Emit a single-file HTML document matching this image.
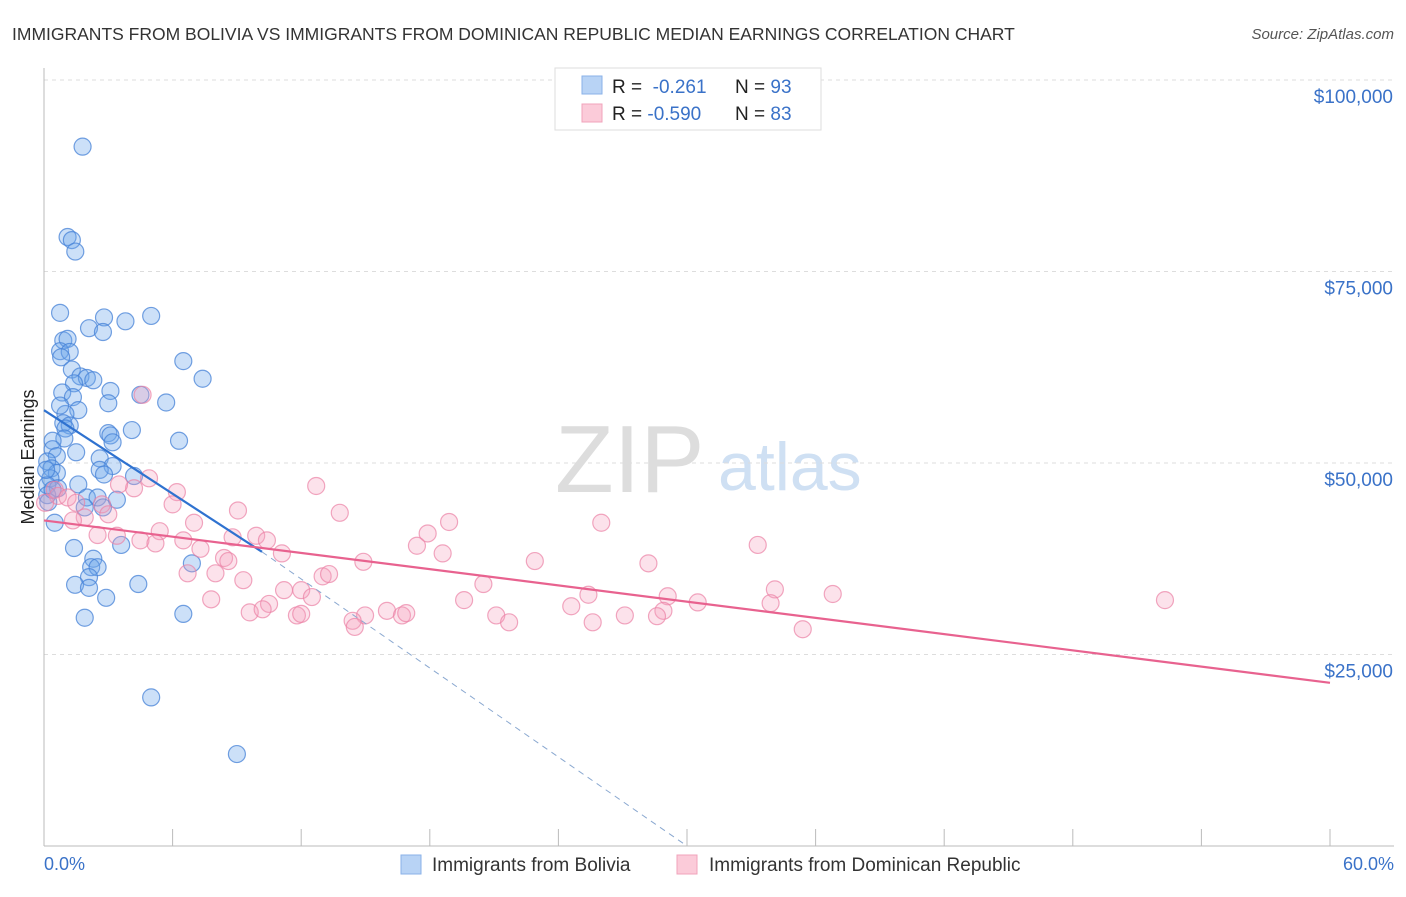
<!DOCTYPE html>
<html><head><meta charset="utf-8"><style>
body{margin:0;background:#fff;font-family:"Liberation Sans",sans-serif;}
svg text{font-family:"Liberation Sans",sans-serif;}
</style></head><body>
<svg id="c" width="1406" height="892" xmlns="http://www.w3.org/2000/svg">
<text x="12" y="40" font-size="17.5" fill="#333">IMMIGRANTS FROM BOLIVIA VS IMMIGRANTS FROM DOMINICAN REPUBLIC MEDIAN EARNINGS CORRELATION CHART</text>
<text x="1394" y="39" font-size="15" fill="#555" font-style="italic" text-anchor="end">Source: ZipAtlas.com</text>
<text x="555" y="492" font-size="96" fill="#ddd" font-family="Liberation Serif">ZIP</text>
<text x="718" y="490" font-size="68" fill="#cfe0f3">atlas</text>
<g id="grid"></g><g id="axes"></g><g id="pts"></g><g id="lines"></g>
<text transform="translate(34,457) rotate(-90)" font-size="18" fill="#222" text-anchor="middle">Median Earnings</text>
<text x="44" y="870" font-size="18" fill="#3a72c8">0.0%</text>
<text x="1394" y="870" font-size="18" fill="#3a72c8" text-anchor="end">60.0%</text>
<g>
<rect x="555" y="68" width="266" height="62" fill="#fff" stroke="#ddd"/>
<rect x="582" y="76" width="20" height="18" fill="#b8d3f5" stroke="#8ab2e8"/>
<rect x="582" y="104" width="20" height="18" fill="#fbcbd9" stroke="#f0a3bb"/>
<text x="612" y="93" font-size="19" fill="#222">R = <tspan fill="#3a72c8">&#160;-0.261</tspan><tspan x="735">N = </tspan><tspan fill="#3a72c8">93</tspan></text>
<text x="612" y="120" font-size="19" fill="#222">R = <tspan fill="#3a72c8">-0.590</tspan><tspan x="735">N = </tspan><tspan fill="#3a72c8">83</tspan></text>
</g>
<g>
<rect x="401" y="855" width="20" height="19" fill="#b8d3f5" stroke="#8ab2e8"/>
<text x="432" y="871" font-size="19" fill="#333">Immigrants from Bolivia</text>
<rect x="677" y="855" width="20" height="19" fill="#fbcbd9" stroke="#f0a3bb"/>
<text x="709" y="871" font-size="19" fill="#333">Immigrants from Dominican Republic</text>
</g>
</svg>
<script>
const yTicks=[25000,50000,75000,100000];
const yTickLabels=["$25,000","$50,000","$75,000","$100,000"];
const xTicks=[0,6,12,18,24,30,36,42,48,54,60];
const blueX=[1.8,1.1,1.3,1.46,0.75,2.1,2.8,2.75,3.8,5.0,0.9,1.1,0.75,1.2,0.8,6.5,7.4,1.3,1.7,2.0,2.3,1.4,3.1,0.85,1.35,3.0,4.5,5.7,1.6,1.0,0.9,1.2,1.0,4.1,3.0,3.1,0.95,0.4,3.2,6.3,0.4,1.5,0.6,2.6,0.15,3.2,0.35,2.6,2.8,0.6,4.2,0.3,1.6,0.15,0.65,0.15,2.0,2.5,3.4,0.2,1.9,2.75,0.5,1.4,3.6,2.3,2.2,6.9,2.5,2.1,1.45,4.4,2.1,2.9,1.9,6.5,5.0,9.0,0.4,0.1,0.75];
const blueY=[91.3,79.5,79.1,77.6,69.6,67.6,69.0,67.1,68.5,69.2,66.0,66.2,64.6,64.5,63.8,63.3,61.0,62.2,61.3,61.1,60.8,60.4,59.4,59.2,58.6,57.8,58.9,57.9,56.9,56.4,55.2,54.9,54.5,54.3,53.9,53.6,53.2,52.9,52.7,52.9,51.8,51.4,50.9,50.6,50.2,49.6,49.3,49.1,48.5,48.7,48.3,48.0,47.2,47.1,46.7,45.8,45.5,45.5,45.2,44.9,44.2,44.2,42.2,38.9,39.3,37.5,36.4,36.9,36.4,35.1,34.1,34.2,33.7,32.4,29.8,30.3,19.4,12.0,46.5,49.1,57.5];
const pinkX=[4.6,4.9,6.2,12.7,0.5,0.65,1.1,1.5,4.2,3.5,2.7,6.0,9.05,13.8,18.9,26.0,1.9,1.35,3.0,7.0,5.4,2.5,3.4,4.5,5.2,6.5,8.8,9.9,10.4,17.9,17.4,7.3,11.1,18.6,8.4,8.6,14.9,22.9,28.2,33.3,6.7,8.0,13.0,13.3,9.3,20.5,34.1,36.8,52.3,7.8,11.2,12.0,12.5,10.5,25.4,29.1,30.5,19.6,24.6,33.9,9.6,10.2,11.8,12.0,14.98,16.0,16.7,16.9,21.1,27.1,28.9,14.4,21.7,25.6,28.6,14.5,35.4,0.05];
const pinkY=[58.9,48.0,46.2,47.0,46.5,45.7,45.5,44.8,46.7,47.2,44.6,44.6,43.8,43.5,42.3,42.2,42.9,42.5,43.3,42.2,41.1,40.6,40.5,39.9,39.5,39.9,40.3,40.5,39.9,40.8,39.2,38.8,38.2,38.2,37.6,37.2,37.1,37.2,36.9,39.3,35.6,35.6,35.2,35.5,34.7,34.2,33.5,32.9,32.1,32.2,33.4,33.4,32.5,31.6,32.8,32.6,31.8,32.1,31.3,31.7,30.5,30.9,30.1,30.3,30.1,30.7,30.1,30.4,30.1,30.1,30.7,29.4,29.2,29.2,30.0,28.6,28.3,44.8];
const blueTrend=[0,56.9,10.17,38.4,30.0,0];
const pinkTrend=[0,42.5,60,21.3];
const NS="http://www.w3.org/2000/svg";
const sx=v=>44+v*(1330-44)/60;
const sy=v=>846-v*191.5/25;
function mk(tag,attrs,parent){const e=document.createElementNS(NS,tag);for(const k in attrs)e.setAttribute(k,attrs[k]);document.getElementById(parent).appendChild(e);return e;}
yTicks.forEach((t,i)=>{
  const y=sy(t/1000);
  const l=mk('line',{x1:44,x2:1394,y1:y,y2:y,stroke:'#ddd','stroke-dasharray':'4,4'},'grid');
  
  
  const tx=mk('text',{x:1393,y:y+23,'font-size':19,fill:'#3a72c8','text-anchor':'end'},'grid');
  tx.textContent=yTickLabels[i];
  
  
});
const ya=mk('line',{x1:44,x2:44,y1:68,y2:846,stroke:'#bbb'},'axes');


const xa=mk('line',{x1:44,x2:1394,y1:846,y2:846,stroke:'#bbb'},'axes');


xTicks.forEach(t=>{
  const l=mk('line',{x1:sx(t),x2:sx(t),y1:829,y2:846,stroke:'#bbb'},'axes');
  
  
});
blueX.forEach((x,i)=>{
  const c=mk('circle',{cx:sx(x),cy:sy(blueY[i]),r:8.5,fill:'rgba(110,165,235,0.35)',stroke:'rgba(70,130,215,0.75)','stroke-width':1.2},'pts');
  
  
});
pinkX.forEach((x,i)=>{
  const c=mk('circle',{cx:sx(x),cy:sy(pinkY[i]),r:8.5,fill:'rgba(245,160,190,0.3)',stroke:'rgba(235,130,165,0.7)','stroke-width':1.2},'pts');
  
  
});
const bl=mk('line',{x1:sx(blueTrend[0]),y1:sy(blueTrend[1]),x2:sx(blueTrend[2]),y2:sy(blueTrend[3]),stroke:'#2f72d0','stroke-width':2.2},'lines');


const bd=mk('line',{x1:sx(blueTrend[2]),y1:sy(blueTrend[3]),x2:sx(blueTrend[4]),y2:sy(blueTrend[5]),stroke:'#8aa8d0','stroke-width':1,'stroke-dasharray':'6,5'},'lines');


const pl=mk('line',{x1:sx(pinkTrend[0]),y1:sy(pinkTrend[1]),x2:sx(pinkTrend[2]),y2:sy(pinkTrend[3]),stroke:'#e8628f','stroke-width':2.2},'lines');


</script>
</body></html>
